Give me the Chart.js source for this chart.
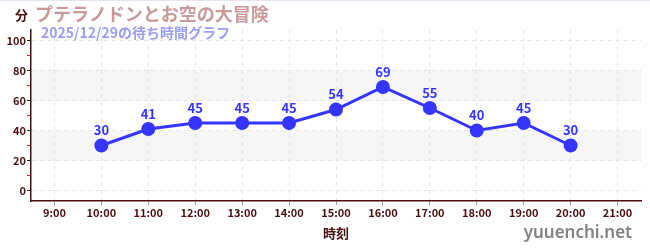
<!DOCTYPE html>
<html>
<head>
<meta charset="utf-8">
<script src="https://cdn.jsdelivr.net/npm/chart.js@4/dist/chart.umd.min.js"></script>
<style>
  body { margin: 0; background: #fff; }
  #wrap { position: relative; width: 650px; height: 250px; border-top: 1px solid #e4e4f4; box-sizing: border-box; }
  .txt { position: absolute; font-family: "Noto Sans CJK JP", sans-serif; font-weight: bold; white-space: nowrap; line-height: 1; }
  #title { left: 35px; top: 3px; font-size: 18px; color: #c99a9a; }
  #sub { left: 41px; top: 24px; font-size: 14px; color: #9c9cf2; }
  #unit { left: 15px; top: 7px; font-size: 13px; color: #4a0f0f; }
  #site { right: 18px; top: 222px; font-size: 17px; color: #828282; font-family: "Noto Sans", sans-serif; font-weight: 600; }
</style>
</head>
<body>
<div id="wrap">
  <canvas id="waitChart" width="650" height="249"></canvas>
  <div class="txt" id="unit">分</div>
  <div class="txt" id="title">プテラノドンとお空の大冒険</div>
  <div class="txt" id="sub">2025/12/29の待ち時間グラフ</div>
  <div class="txt" id="site">yuuenchi.net</div>
</div>
<script>
const times = ["9:00","10:00","11:00","12:00","13:00","14:00","15:00","16:00","17:00","18:00","19:00","20:00","21:00"];
const waits = [null, 30, 41, 45, 45, 45, 54, 69, 55, 40, 45, 30, null];
const yTicks = [0,10,20,30,40,50,60,70,80,90,100];

const maroon = "#4a0f0f";
const blue = "#3535ff";

// grey bands 20-40 and 60-80
const bands = {
    id: "bands",
    beforeDraw(chart) {
        const {ctx, chartArea, scales} = chart;
        ctx.save();
        ctx.fillStyle = "#f6f6f6";
        for (const [a, b] of [[20, 40], [60, 80]]) {
            const y1 = scales.y.getPixelForValue(b);
            const y2 = scales.y.getPixelForValue(a);
            ctx.fillRect(chartArea.left, y1, chartArea.right - chartArea.left, y2 - y1);
        }
        ctx.restore();
    }
};

// value labels above points
const valueLabels = {
    id: "valueLabels",
    afterDatasetsDraw(chart) {
        const ctx = chart.ctx;
        const meta = chart.getDatasetMeta(0);
        ctx.save();
        ctx.font = "bold 13px 'Noto Sans CJK JP'";
        ctx.fillStyle = blue;
        ctx.textAlign = "center";
        ctx.textBaseline = "middle";
        meta.data.forEach((pt, i) => {
            if (waits[i] == null) return;
            ctx.fillText(String(waits[i]), pt.x, pt.y - 15);
        });
        ctx.restore();
    }
};

new Chart(document.getElementById("waitChart"), {
    type: "line",
    data: {
        labels: times,
        datasets: [{
            data: waits,
            borderColor: blue,
            backgroundColor: blue,
            borderWidth: 3,
            pointRadius: 5.5,
            pointHoverRadius: 5.5,
            spanGaps: false
        }]
    },
    options: {
        responsive: false,
        animation: false,
        layout: { padding: { top: 29, right: 9, left: 0, bottom: 0 } },
        plugins: {
            legend: { display: false },
            tooltip: { enabled: false }
        },
        scales: {
            x: {
                offset: true,
                afterFit(scale) { scale.height = 49; },
                border: { color: maroon, width: 1.5, dash: [4, 4] },
                grid: {
                    offset: false,
                    color: "#e4e4e4",
                    tickColor: "#999",
                    tickLength: 4,
                    tickBorderDash: []
                },
                ticks: {
                    color: maroon,
                    padding: 1,
                    font: { family: "'Noto Sans CJK JP'", size: 11, weight: "bold" },
                    maxRotation: 0,
                    autoSkip: false
                },
                title: {
                    display: true,
                    text: "時刻",
                    color: maroon,
                    font: { family: "'Noto Sans CJK JP'", size: 13, weight: "bold" },
                    padding: { top: 0, bottom: 9 }
                }
            },
            y: {
                min: -7,
                max: 107,
                afterFit(scale) { scale.width = 31; },
                afterBuildTicks(scale) { scale.ticks = yTicks.map(v => ({ value: v })); },
                border: { color: maroon, width: 1.5, dash: [4, 4] },
                grid: {
                    color: ctx => (ctx.tick && ctx.tick.value % 20 === 0) ? "#e2e2e2" : "rgba(0,0,0,0)",
                    tickColor: ctx => (ctx.tick && ctx.tick.value % 20 === 0) ? "#222" : "#d02020",
                    tickLength: 4,
                    tickBorderDash: []
                },
                ticks: {
                    color: maroon,
                    padding: 1,
                    font: { family: "'Noto Sans CJK JP'", size: 11, weight: "bold" },
                    callback: v => (v % 20 === 0 ? v : "")
                }
            }
        }
    },
    plugins: [bands, valueLabels]
});
</script>
</body>
</html>
